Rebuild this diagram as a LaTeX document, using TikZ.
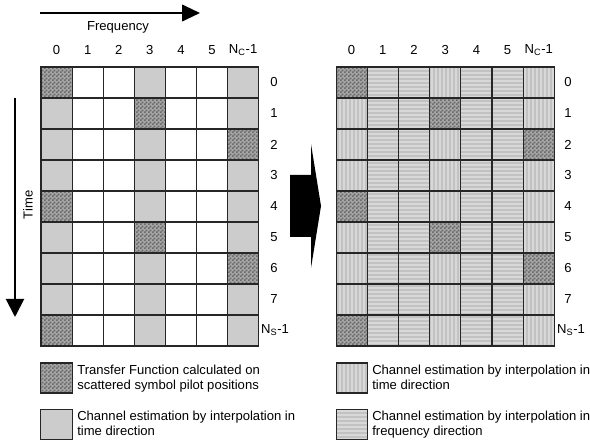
\documentclass[tikz,border=0pt]{standalone}
\usepackage{fontspec}
\setmainfont{Liberation Sans}
\usetikzlibrary{arrows.meta,patterns}
\pgfdeclarepatternformonly{checker}{\pgfpointorigin}{\pgfqpoint{3pt}{3pt}}{\pgfqpoint{3pt}{3pt}}{%
  \pgfpathrectangle{\pgfpointorigin}{\pgfqpoint{1.5pt}{1.5pt}}%
  \pgfpathrectangle{\pgfqpoint{1.5pt}{1.5pt}}{\pgfqpoint{1.5pt}{1.5pt}}%
  \pgfusepath{fill}}
\pgfdeclarepatternformonly{vstripes}{\pgfpointorigin}{\pgfqpoint{3.3pt}{3.3pt}}{\pgfqpoint{3.3pt}{3.3pt}}{%
  \pgfpathrectangle{\pgfqpoint{1.2pt}{0pt}}{\pgfqpoint{0.9pt}{3.3pt}}%
  \pgfusepath{fill}}
\pgfdeclarepatternformonly{hstripes}{\pgfpointorigin}{\pgfqpoint{3.3pt}{3.3pt}}{\pgfqpoint{3.3pt}{3.3pt}}{%
  \pgfpathrectangle{\pgfqpoint{0pt}{1.2pt}}{\pgfqpoint{3.3pt}{0.9pt}}%
  \pgfusepath{fill}}
\definecolor{cellgray}{HTML}{CCCCCC}
\definecolor{stripebase}{HTML}{C2C2C2}
\definecolor{stripelight}{HTML}{E4E4E4}
\definecolor{checklight}{HTML}{A6A6A6}
\definecolor{checkdark}{HTML}{6A6A6A}
\tikzset{
  cell/.style={draw=black!85, line width=0.8pt, inner sep=0pt, outer sep=0pt,
    minimum width=23.33pt, minimum height=23.25pt},
  lwhite/.style={fill=white},
  lgray/.style={fill=cellgray},
  pilot/.style={preaction={fill=checklight}, pattern=checker, pattern color=checkdark},
  rvert/.style={preaction={fill=stripebase}, pattern=vstripes, pattern color=stripelight},
  rhor/.style={preaction={fill=stripebase}, pattern=hstripes, pattern color=stripelight},
  lab/.style={inner sep=0pt},
  legtext/.style={anchor=north west, inner sep=0pt, align=left},
  hline/.style={line width=1.5pt, black!85},
  bigarrow/.style={-{Triangle[length=13.5pt,width=12.5pt]}, line width=1.5pt}
}
\begin{document}
\begin{tikzpicture}[x=0.75pt,y=-0.75pt, font=\fontsize{9.8}{11.4}\selectfont]
\useasboundingbox (0,0) rectangle (590,441);
% grids
\foreach \r in {0,...,8}{
  \foreach \c in {0,...,6}{
    \pgfmathtruncatemacro\m{mod(\r,4)}
    \pgfmathtruncatemacro\tc{mod(\c,3)==0 ? 1 : 0}
    \def\lt{lwhite}\def\rt{rhor}
    \ifnum\tc=1 \def\lt{lgray}\def\rt{rvert}\fi
    \ifnum\m<3 \ifnum\c=\numexpr3*\m\relax \def\lt{pilot}\def\rt{pilot}\fi\fi
    \node[cell,\lt] (L\r\c) at ({41+31.1*(\c+0.5)},{67+31*(\r+0.5)}) {};
    \node[cell,\rt] (R\r\c) at ({336+31.2*(\c+0.5)},{67+31*(\r+0.5)}) {};
  }
}
\foreach \r in {0,...,8}{
  \draw[hline] (L\r0.north west) -- (L\r6.north east);
  \draw[hline] (R\r0.north west) -- (R\r6.north east);
}
\draw[hline] (L80.south west) -- (L86.south east);
\draw[hline] (R80.south west) -- (R86.south east);
% column labels
\foreach \c in {0,...,5}{
  \node[lab] (LC\c) at ({41+31.1*(\c+0.5)},50) {\c};
  \node[lab] (RC\c) at ({336+31.2*(\c+0.5)},50) {\c};
}
\node[lab] (LC6) at ({41+31.1*6.5},50) {N\textsubscript{C}-1};
\node[lab] (RC6) at ({336+31.2*6.5},50) {N\textsubscript{C}-1};
% row labels
\foreach \r in {0,...,7}{
  \node[lab] (LR\r) at (274,{67+31*(\r+0.5)}) {\r};
  \node[lab] (RR\r) at (568,{67+31*(\r+0.5)}) {\r};
}
\node[lab] (LR8) at (275,{67+31*8.5}) {N\textsubscript{S}-1};
\node[lab] (RR8) at (571,{67+31*8.5}) {N\textsubscript{S}-1};
% frequency arrow
\coordinate (fs) at (40,13);
\coordinate (fe) at (200,13);
\draw[bigarrow] (fs) -- (fe);
\node[lab] (freq) at (118,27) {Frequency};
% time arrow
\coordinate (ts) at (15,98);
\coordinate (te) at (15,317);
\draw[bigarrow, -{Triangle[length=13.5pt,width=13.5pt]}] (ts) -- (te);
\node[lab, rotate=90] (time) at (28,205) {Time};
% big arrow
\fill[black] (290,175) -- (311,175) -- (311,144) -- (321,206) -- (311,268) -- (311,237) -- (290,237) -- cycle;
% legend
\node[cell, pilot, minimum width=23.5pt, minimum height=22.5pt] (leg1) at (56.5,378) {};
\node[legtext] (leg1t) at (77,365) {Transfer Function calculated on\\scattered symbol pilot positions};
\node[cell, lgray, minimum width=23.5pt, minimum height=22.5pt] (leg2) at (56.5,424.5) {};
\node[legtext] (leg2t) at (77,411) {Channel estimation by interpolation in\\time direction};
\node[cell, rvert, minimum width=23.5pt, minimum height=22.5pt] (leg3) at (352,378) {};
\node[legtext] (leg3t) at (372,365) {Channel estimation by interpolation in\\time direction};
\node[cell, rhor, minimum width=23.5pt, minimum height=22.5pt] (leg4) at (352,424.5) {};
\node[legtext] (leg4t) at (372,411) {Channel estimation by interpolation in\\frequency direction};
\end{tikzpicture}
\end{document}
